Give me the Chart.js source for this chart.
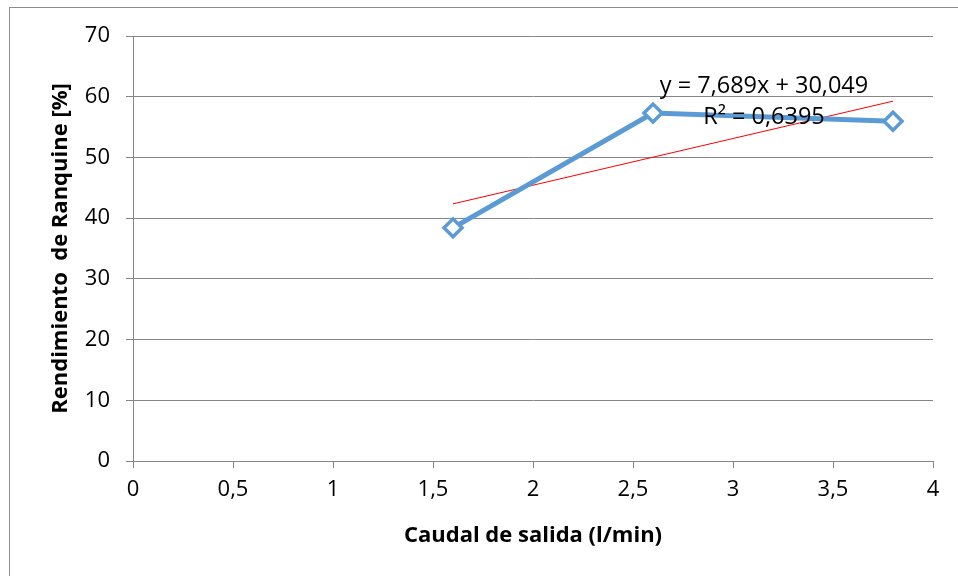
<!DOCTYPE html>
<html>
<head>
<meta charset="utf-8">
<script src="https://cdn.jsdelivr.net/npm/chart.js@4/dist/chart.umd.min.js"></script>
<style>
  html, body { margin: 0; padding: 0; background: #ffffff; }
  canvas { display: block; }
</style>
</head>
<body>
<canvas id="chart" width="958" height="576"></canvas>
<script>
// Caudal de salida (l/min) y rendimiento medido (%)
const caudal = [1.6, 2.6, 3.8];
const rendimiento = [38.4, 57.3, 55.96];

// Línea de tendencia lineal
const pendiente = 7.689;
const ordenada = 30.049;
const r2 = 0.6395;

const fmt = (v, d) => v.toFixed(d).replace('.', ',');
const ecuacion = 'y = ' + fmt(pendiente, 3) + 'x + ' + fmt(ordenada, 3);
const etiquetaR2 = 'R² = ' + fmt(r2, 4);

const tendencia = [caudal[0], caudal[caudal.length - 1]].map(x => ({ x: x, y: pendiente * x + ordenada }));
const puntos = caudal.map((x, i) => ({ x: x, y: rendimiento[i] }));

const GRIS = '#868686';
const FUENTE = '"Open Sans", sans-serif';

const marco = {
  id: 'marco',
  beforeDraw(chart) {
    const ctx = chart.ctx;
    ctx.save();
    ctx.fillStyle = '#ffffff';
    ctx.fillRect(0, 0, chart.width, chart.height);
    ctx.strokeStyle = '#8c8c8c';
    ctx.lineWidth = 1;
    ctx.strokeRect(9.5, 7.5, chart.width + 20, chart.height + 20);
    ctx.restore();
  },
  afterDatasetsDraw(chart) {
    const ctx = chart.ctx;
    ctx.save();
    ctx.fillStyle = '#000000';
    ctx.font = '23.5px ' + FUENTE;
    ctx.textAlign = 'center';
    ctx.textBaseline = 'middle';
    ctx.fillText(ecuacion, 764, 86);
    ctx.fillText(etiquetaR2, 764, 117);
    ctx.restore();
  }
};

new Chart(document.getElementById('chart'), {
  type: 'scatter',
  data: {
    datasets: [
      {
        label: 'Rendimiento',
        data: puntos,
        showLine: true,
        borderColor: '#5b9bd5',
        borderWidth: 5,
        pointStyle: 'rectRot',
        pointRadius: 9,
        pointBorderWidth: 3.5,
        pointBackgroundColor: '#ffffff',
        pointBorderColor: '#5b9bd5',
        order: 1
      },
      {
        label: 'Lineal',
        data: tendencia,
        showLine: true,
        borderColor: '#ff0000',
        borderWidth: 1,
        pointRadius: 0,
        order: 2
      }
    ]
  },
  options: {
    responsive: false,
    animation: false,
    layout: { padding: { top: 36, right: 25, left: 0, bottom: 0 } },
    plugins: { legend: { display: false }, tooltip: { enabled: false } },
    scales: {
      x: {
        type: 'linear',
        min: 0, max: 4,
        afterFit(s) { s.height = 115; },
        ticks: {
          stepSize: 0.5,
          color: '#000000',
          font: { family: FUENTE, size: 22 },
          padding: 9,
          maxRotation: 0,
          callback: v => String(v).replace('.', ',')
        },
        grid: { drawOnChartArea: false, drawTicks: true, tickLength: 7, color: GRIS },
        border: { display: true, color: GRIS, width: 1 },
        title: {
          display: true,
          text: 'Caudal de salida (l/min)',
          color: '#000000',
          font: { family: FUENTE, size: 22, weight: 'bold' },
          padding: { top: 0, bottom: 27 }
        }
      },
      y: {
        type: 'linear',
        min: 0, max: 70,
        afterFit(s) { s.width = 133; },
        ticks: {
          stepSize: 10,
          color: '#000000',
          font: { family: FUENTE, size: 22 },
          padding: 16
        },
        grid: { color: GRIS, tickLength: 7, drawTicks: true },
        border: { display: true, color: GRIS, width: 1 },
        title: {
          display: true,
          text: 'Rendimiento  de Ranquine [%]',
          color: '#000000',
          font: { family: FUENTE, size: 22, weight: 'bold' },
          padding: { top: 48, bottom: 0 }
        }
      }
    }
  },
  plugins: [marco]
});
</script>
</body>
</html>
